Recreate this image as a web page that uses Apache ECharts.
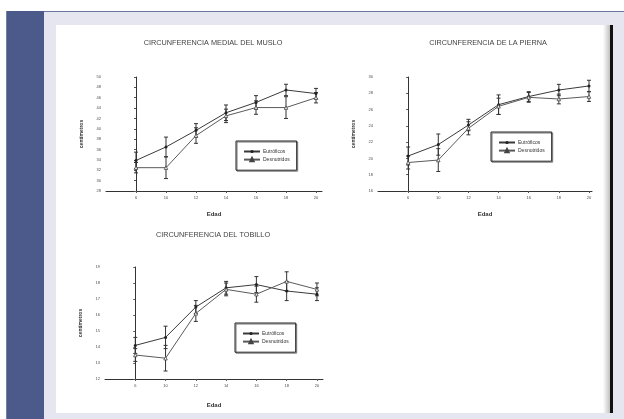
<!DOCTYPE html>
<html>
<head>
<meta charset="utf-8">
<script src="https://cdn.jsdelivr.net/npm/echarts@6/dist/echarts.min.js"></script>
<style>
html,body{margin:0;padding:0;width:624px;height:419px;overflow:hidden;background:#fff;}
.f{position:absolute;}
#chart{position:absolute;left:0;top:0;width:624px;height:419px;}
</style>
</head>
<body>
<div class="f" style="left:44px;top:12px;width:580px;height:407px;background:#e6e6f1;"></div>
<div class="f" style="left:6px;top:11px;width:618px;height:1px;background:#6b78a2;"></div>
<div class="f" style="left:6px;top:11px;width:38px;height:408px;background:#4b5a8a;"></div>
<div class="f" style="left:6px;top:11px;width:1px;height:408px;background:#7482aa;"></div>
<div class="f" style="left:56px;top:25px;width:556px;height:388px;background:#fff;"></div>
<div class="f" style="left:603px;top:25px;width:8px;height:388px;background:linear-gradient(to right,#ffffff,#b8b8b8);"></div>
<div class="f" style="left:610px;top:25px;width:3px;height:388px;background:#111;"></div>
<div id="chart"></div>
<script>
// ---- data ----
const ageLabels = ['6', '10', '12', '14', '16', '18', '20'];
const seriesNames = ['Eutróficos', 'Desnutridos'];
const chartTitles = ['CIRCUNFERENCIA MEDIAL DEL MUSLO', 'CIRCUNFERENCIA DE LA PIERNA', 'CIRCUNFERENCIA DEL TOBILLO'];

const musloEu = [33.9, 36.5, 39.7, 43.1, 45.1, 47.5, 46.8];
const musloDes = [32.5, 32.5, 38.7, 42.5, 44.1, 44.1, 46.0];
const musloEuErr = [1.6, 1.9, 1.3, 1.5, 1.3, 1.1, 1.0];
const musloDesErr = [1.0, 2.1, 1.5, 1.3, 1.3, 2.1, 1.0];

const piernaEu = [20.3, 21.7, 24.1, 26.6, 27.6, 28.4, 28.9];
const piernaDes = [19.5, 19.8, 23.7, 26.4, 27.5, 27.3, 27.6];
const piernaEuErr = [1.1, 1.3, 0.7, 1.2, 0.6, 0.7, 0.7];
const piernaDesErr = [0.8, 1.4, 0.8, 1.0, 0.6, 0.6, 0.6];

const tobilloEu = [14.1, 14.6, 16.5, 17.7, 17.9, 17.5, 17.3];
const tobilloDes = [13.5, 13.3, 16.1, 17.6, 17.3, 18.1, 17.6];
const tobilloEuErr = [0.5, 0.7, 0.4, 0.4, 0.5, 0.6, 0.4];
const tobilloDesErr = [0.4, 0.8, 0.5, 0.4, 0.5, 0.6, 0.4];

const musloTicks = [28, 50, 2];
const piernaTicks = [16, 30, 2];
const tobilloTicks = [12, 19, 1];

// ---- build ----
const chart = echarts.init(document.getElementById('chart'), null, {renderer: 'canvas'});
const txt = '#4a4a4a';
const font = 'Liberation Sans';

const panels = [
  {eu: musloEu, des: musloDes, euErr: musloEuErr, desErr: musloDesErr, ticks: musloTicks,
   grid: {left: 106, top: 77, width: 216, height: 114}, xmax: 6.2,
   legend: {left: 236, top: 141}, title: {x: 208, y: 34}},
  {eu: piernaEu, des: piernaDes, euErr: piernaEuErr, desErr: piernaDesErr, ticks: piernaTicks,
   grid: {left: 378, top: 77, width: 214, height: 114}, xmax: 6.1,
   legend: {left: 491, top: 132}, title: {x: 483, y: 34}},
  {eu: tobilloEu, des: tobilloDes, euErr: tobilloEuErr, desErr: tobilloDesErr, ticks: tobilloTicks,
   grid: {left: 105, top: 267, width: 218, height: 112}, xmax: 6.2,
   legend: {left: 235, top: 323}, title: {x: 208, y: 226}}
];

const grids = [], xAxes = [], yAxes = [], series = [], legends = [], titles = [];
const idx = ageLabels.map((_, i) => i);

function errItem(params, api) {
  const x = api.value(0), v = api.value(1), e = api.value(2);
  const top = api.coord([x, v + e]);
  const bot = api.coord([x, v - e]);
  const cap = 2;
  const st = {stroke: '#333', lineWidth: 1};
  return {type: 'group', children: [
    {type: 'line', shape: {x1: top[0], y1: top[1], x2: bot[0], y2: bot[1]}, style: st},
    {type: 'line', shape: {x1: top[0] - cap, y1: top[1], x2: top[0] + cap, y2: top[1]}, style: st},
    {type: 'line', shape: {x1: bot[0] - cap, y1: bot[1], x2: bot[0] + cap, y2: bot[1]}, style: st}
  ]};
}

panels.forEach((p, k) => {
  grids.push(Object.assign({containLabel: false}, p.grid));
  xAxes.push({
    type: 'value', gridIndex: k, min: -1, max: p.xmax, interval: 1,
    name: 'Edad', nameLocation: 'middle', nameGap: k === 2 ? 23 : 20,
    nameTextStyle: {fontSize: 6, color: '#333', fontFamily: font, fontWeight: 'bold'},
    axisLine: {lineStyle: {color: '#333', width: 1}},
    axisTick: {show: true, length: 2, customValues: idx, lineStyle: {color: '#555'}},
    axisLabel: {customValues: idx, fontSize: 4, color: txt, fontFamily: font, margin: 5,
      formatter: v => ageLabels[v] !== undefined ? ageLabels[v] : ''},
    splitLine: {show: false}
  });
  const [mn, mx, iv] = p.ticks;
  yAxes.push({
    type: 'value', gridIndex: k, min: mn, max: mx, interval: iv,
    name: 'centímetros', nameLocation: 'middle', nameGap: 22, nameRotate: 90,
    nameTextStyle: {fontSize: 5, color: '#333', fontFamily: font, fontWeight: 'bold'},
    axisLine: {show: true, lineStyle: {color: '#333', width: 1}},
    axisTick: {show: true, length: 2, lineStyle: {color: '#555'}},
    axisLabel: {fontSize: 4, color: txt, fontFamily: font, margin: 5},
    splitLine: {show: false}
  });
  titles.push({
    text: chartTitles[k], left: p.title.x, top: p.title.y, textAlign: 'center',
    textStyle: {fontSize: 7.3, fontWeight: 'normal', color: '#444', fontFamily: font}
  });
  series.push({
    name: seriesNames[0], type: 'line', xAxisIndex: k, yAxisIndex: k,
    data: p.eu.map((v, i) => [i, v]),
    symbol: 'circle', symbolSize: 3,
    lineStyle: {color: '#3a3a3a', width: 1}, itemStyle: {color: '#222'}, z: 3
  });
  series.push({
    name: seriesNames[1], type: 'line', xAxisIndex: k, yAxisIndex: k,
    data: p.des.map((v, i) => [i, v]),
    symbol: 'triangle', symbolSize: 3.5,
    lineStyle: {color: '#5a5a5a', width: 1}, itemStyle: {color: '#fff', borderColor: '#444', borderWidth: 0.8}, z: 3
  });
  series.push({
    type: 'custom', xAxisIndex: k, yAxisIndex: k, renderItem: errItem, z: 2,
    data: p.eu.map((v, i) => [i, v, p.euErr[i]]), silent: true
  });
  series.push({
    type: 'custom', xAxisIndex: k, yAxisIndex: k, renderItem: errItem, z: 2,
    data: p.des.map((v, i) => [i, v, p.desErr[i]]), silent: true
  });
  legends.push({
    data: seriesNames, orient: 'vertical', left: p.legend.left, top: p.legend.top,
    itemWidth: 16, itemHeight: 4, itemGap: 3, padding: [8, 7, 8, 7],
    borderColor: '#222', borderWidth: 1, selectedMode: false,
    shadowColor: '#777', shadowBlur: 0, shadowOffsetX: 1, shadowOffsetY: 1,
    textStyle: {fontSize: 5, color: '#333', fontFamily: font, padding: [0, 0, 0, -2]}
  });
});

chart.setOption({
  animation: false,
  backgroundColor: 'transparent',
  title: titles,
  grid: grids,
  xAxis: xAxes,
  yAxis: yAxes,
  legend: legends,
  series: series
});
</script>
</body>
</html>
